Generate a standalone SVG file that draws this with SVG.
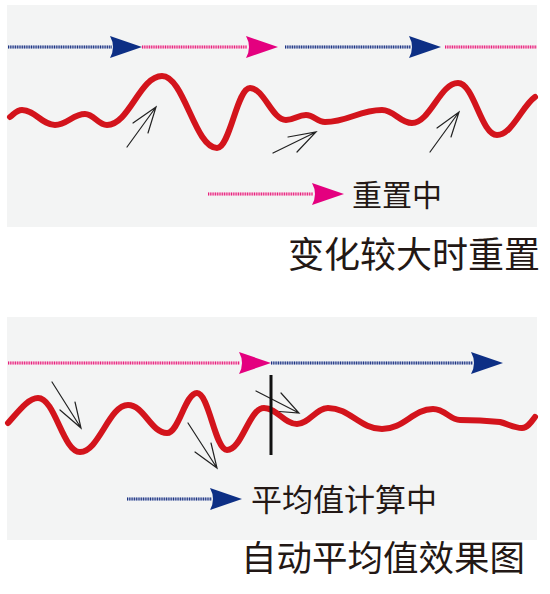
<svg xmlns="http://www.w3.org/2000/svg" xmlns:xlink="http://www.w3.org/1999/xlink" width="550" height="594" viewBox="0 0 550 594">
<style>
.bg{fill:#f3f4f4}
.bl{stroke:#aab3d3;stroke-width:3;fill:none}
.bd{stroke:#1d3480;stroke-width:3;stroke-dasharray:1 1.3;fill:none}
.pl{stroke:#f6b0d0;stroke-width:3;fill:none}
.pd{stroke:#e5237d;stroke-width:3;stroke-dasharray:1 1.3;fill:none}
.wave{stroke:#d3141c;stroke-width:6;fill:none;stroke-linecap:round;stroke-linejoin:round}
.thin{stroke:#222;stroke-width:1.2;fill:none;stroke-linecap:round}
.lab{font-family:"Noto Sans CJK SC","Noto Sans",sans-serif;fill:#231815}
</style>
<defs>
<path id="hb" d="M0,-11 L32,0 L0,11 Q6,0 0,-11 Z" fill="#0d2f85"/>
<path id="hp" d="M0,-11 L32,0 L0,11 Q6,0 0,-11 Z" fill="#e4007f"/>
</defs>
<g id="panel1">
<rect class="bg" x="7" y="5" width="530" height="222"/>
</g>
<g id="panel2">
<rect class="bg" x="7" y="317" width="530" height="223"/>
</g>
<g id="timeline1">
<line class="bl" x1="8" y1="47" x2="112" y2="47"/><line class="bd" x1="8" y1="47" x2="112" y2="47"/>
<use href="#hb" x="110" y="47"/>
<line class="pl" x1="142" y1="47" x2="247" y2="47"/><line class="pd" x1="142" y1="47" x2="247" y2="47"/>
<use href="#hp" x="246" y="47"/>
<line class="bl" x1="285" y1="47" x2="411" y2="47"/><line class="bd" x1="285" y1="47" x2="411" y2="47"/>
<use href="#hb" x="409" y="47"/>
<line class="pl" x1="445" y1="47" x2="537" y2="47"/><line class="pd" x1="445" y1="47" x2="537" y2="47"/>
</g>
<g id="wave1">
<path class="wave" d="M10,117 C15,113 17,110 22,110 C35,110 42,125 55,125 C67,125 73,114 85,114 C94,114 98,125 107,125 C129,125 140,76 162,76 C184,76 195,148 217,148 C230,148 237,88 250,88 C264,88 272,120 286,120 C294,120 298,115 306,115 C314,115 317,122 325,122 C348,122 359,110 382,110 C394,110 400,123 412,123 C430,123 440,83 458,83 C474,83 481,135 497,135 C512,135 522,106 535,97"/>
</g>
<g id="connectors">
<path class="thin" d="M127,147 L156,107 M133,123 L156,107 L148,133"/>
<path class="thin" d="M273,153 L316,132 M288,137 L316,132 L297,152"/>
<path class="thin" d="M430,152 L459,112 M437,128 L459,112 L451,137"/>
<path class="thin" d="M52,382 L81,428 M60,410 L81,428 L75,402"/>
<path class="thin" d="M188,423 L217,468 M195,452 L217,468 L211,443"/>
<path class="thin" d="M256,391 L299,413 M281,393 L299,413 L273,411"/>
</g>
<g id="legend1">
<line class="pl" x1="208" y1="194" x2="313" y2="194"/><line class="pd" x1="208" y1="194" x2="313" y2="194"/>
<use href="#hp" x="312" y="194"/>
<text class="lab" x="352" y="206" font-size="30">重置中</text>
</g>
<g id="title1">
<text class="lab" x="288" y="268" font-size="36">变化较大时重置</text>
</g>
<g id="timeline2">
<line class="pl" x1="8" y1="363" x2="240" y2="363"/><line class="pd" x1="8" y1="363" x2="240" y2="363"/>
<use href="#hp" x="239" y="363"/>
<line class="bl" x1="271" y1="363" x2="473" y2="363"/><line class="bd" x1="271" y1="363" x2="473" y2="363"/>
<use href="#hb" x="471" y="363"/>
</g>
<g id="wave2">
<path class="wave" d="M8,423 C18,412 28,398 38,398 C55,398 63,452 80,452 C99,452 109,405 128,405 C144,405 151,433 167,433 C179,433 185,393 197,393 C209,393 215,450 227,450 C242,450 249,408 264,408 C277,408 284,424 297,424 C309,424 316,408 328,408 C350,408 360,429 382,429 C404,429 413,409 433,409 C445,409 450,420 460,420 C475,420 490,421 500,422 C508,424 514,428 522,428 C528,428 532,421 535,417"/>
</g>
<g id="divider">
<line x1="271" y1="375" x2="271" y2="455" stroke="#111" stroke-width="3"/>
</g>
<g id="legend2">
<line class="bl" x1="127" y1="499" x2="212" y2="499"/><line class="bd" x1="127" y1="499" x2="212" y2="499"/>
<use href="#hb" x="210" y="499"/>
<text class="lab" x="251" y="511" font-size="31">平均值计算中</text>
</g>
<g id="title2">
<text class="lab" x="241" y="571" font-size="35.5">自动平均值效果图</text>
</g>
</svg>
